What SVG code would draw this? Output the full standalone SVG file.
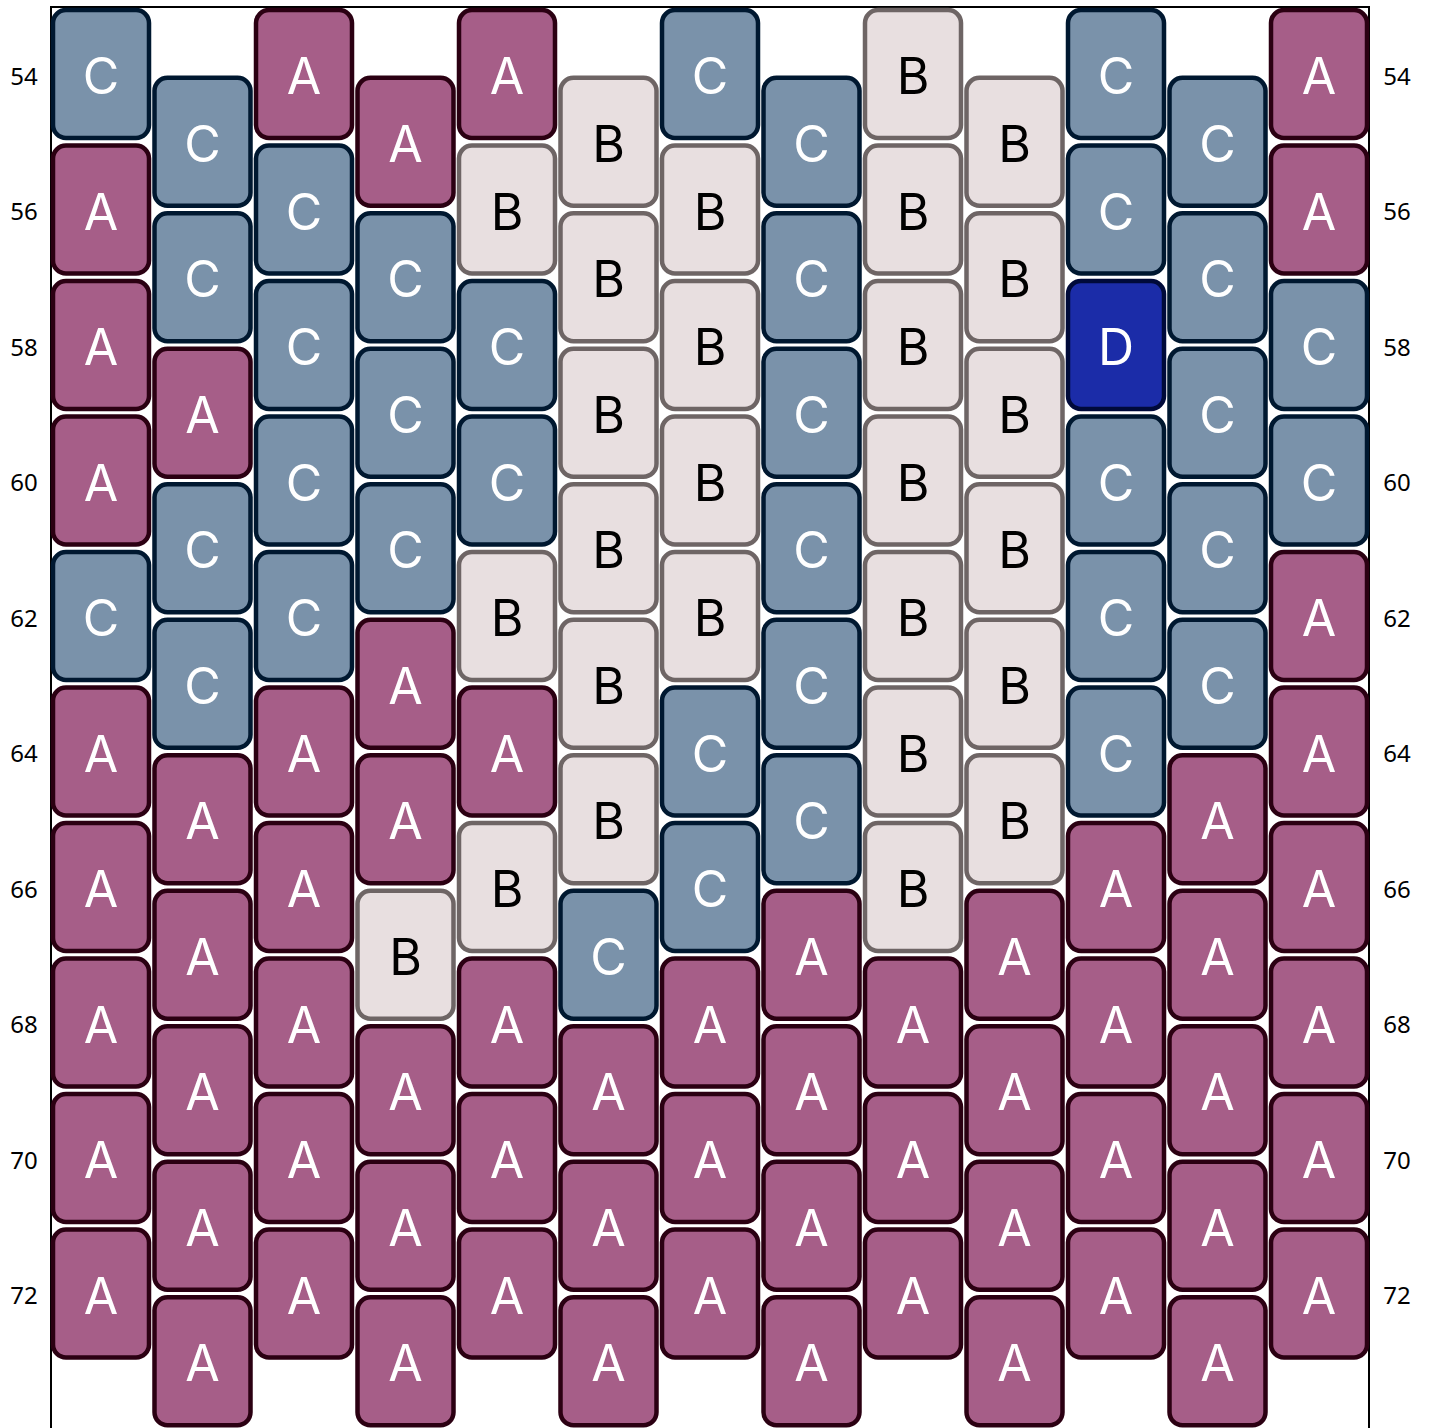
<svg xmlns="http://www.w3.org/2000/svg" width="1431" height="1428" viewBox="0 0 1431 1428">
<style>
.bead rect{stroke-width:4.5}
.bead text{font-family:Inter,"Noto Sans","Liberation Sans",sans-serif;font-size:50px;text-anchor:middle;dominant-baseline:central}
.A rect{fill:#a65e88;stroke:#2b0012}
.A text{fill:#ffffff}
.C rect{fill:#7a92aa;stroke:#001830}
.C text{fill:#ffffff}
.B rect{fill:#e8dfe0;stroke:#6e6565}
.B text{fill:#000000}
.D rect{fill:#1b2ca8;stroke:#000a3a}
.D text{fill:#ffffff}
.lbl{font-family:"Noto Sans","Open Sans","Liberation Sans",sans-serif;font-size:24px;text-anchor:middle;dominant-baseline:central;fill:#000}
</style>
<g id="frame" fill="none" stroke="#000" stroke-width="2">
<path d="M51,1428 V7 H1369 V1428"/>
</g>
<g id="connectors"></g>
<g id="beads">
<g id="c0r0" class="bead C" transform="translate(53,10)"><rect width="96" height="128" rx="13"/><text x="48" y="66">C</text></g>
<g id="c0r1" class="bead A" transform="translate(53,145.5)"><rect width="96" height="128" rx="13"/><text x="48" y="66">A</text></g>
<g id="c0r2" class="bead A" transform="translate(53,281)"><rect width="96" height="128" rx="13"/><text x="48" y="66">A</text></g>
<g id="c0r3" class="bead A" transform="translate(53,416.5)"><rect width="96" height="128" rx="13"/><text x="48" y="66">A</text></g>
<g id="c0r4" class="bead C" transform="translate(53,552)"><rect width="96" height="128" rx="13"/><text x="48" y="66">C</text></g>
<g id="c0r5" class="bead A" transform="translate(53,687.5)"><rect width="96" height="128" rx="13"/><text x="48" y="66">A</text></g>
<g id="c0r6" class="bead A" transform="translate(53,823)"><rect width="96" height="128" rx="13"/><text x="48" y="66">A</text></g>
<g id="c0r7" class="bead A" transform="translate(53,958.5)"><rect width="96" height="128" rx="13"/><text x="48" y="66">A</text></g>
<g id="c0r8" class="bead A" transform="translate(53,1094)"><rect width="96" height="128" rx="13"/><text x="48" y="66">A</text></g>
<g id="c0r9" class="bead A" transform="translate(53,1229.5)"><rect width="96" height="128" rx="13"/><text x="48" y="66">A</text></g>

<g id="c1r0" class="bead C" transform="translate(154.5,77.75)"><rect width="96" height="128" rx="13"/><text x="48" y="66">C</text></g>
<g id="c1r1" class="bead C" transform="translate(154.5,213.25)"><rect width="96" height="128" rx="13"/><text x="48" y="66">C</text></g>
<g id="c1r2" class="bead A" transform="translate(154.5,348.75)"><rect width="96" height="128" rx="13"/><text x="48" y="66">A</text></g>
<g id="c1r3" class="bead C" transform="translate(154.5,484.25)"><rect width="96" height="128" rx="13"/><text x="48" y="66">C</text></g>
<g id="c1r4" class="bead C" transform="translate(154.5,619.75)"><rect width="96" height="128" rx="13"/><text x="48" y="66">C</text></g>
<g id="c1r5" class="bead A" transform="translate(154.5,755.25)"><rect width="96" height="128" rx="13"/><text x="48" y="66">A</text></g>
<g id="c1r6" class="bead A" transform="translate(154.5,890.75)"><rect width="96" height="128" rx="13"/><text x="48" y="66">A</text></g>
<g id="c1r7" class="bead A" transform="translate(154.5,1026.25)"><rect width="96" height="128" rx="13"/><text x="48" y="66">A</text></g>
<g id="c1r8" class="bead A" transform="translate(154.5,1161.75)"><rect width="96" height="128" rx="13"/><text x="48" y="66">A</text></g>
<g id="c1r9" class="bead A" transform="translate(154.5,1297.25)"><rect width="96" height="128" rx="13"/><text x="48" y="66">A</text></g>

<g id="c2r0" class="bead A" transform="translate(256,10)"><rect width="96" height="128" rx="13"/><text x="48" y="66">A</text></g>
<g id="c2r1" class="bead C" transform="translate(256,145.5)"><rect width="96" height="128" rx="13"/><text x="48" y="66">C</text></g>
<g id="c2r2" class="bead C" transform="translate(256,281)"><rect width="96" height="128" rx="13"/><text x="48" y="66">C</text></g>
<g id="c2r3" class="bead C" transform="translate(256,416.5)"><rect width="96" height="128" rx="13"/><text x="48" y="66">C</text></g>
<g id="c2r4" class="bead C" transform="translate(256,552)"><rect width="96" height="128" rx="13"/><text x="48" y="66">C</text></g>
<g id="c2r5" class="bead A" transform="translate(256,687.5)"><rect width="96" height="128" rx="13"/><text x="48" y="66">A</text></g>
<g id="c2r6" class="bead A" transform="translate(256,823)"><rect width="96" height="128" rx="13"/><text x="48" y="66">A</text></g>
<g id="c2r7" class="bead A" transform="translate(256,958.5)"><rect width="96" height="128" rx="13"/><text x="48" y="66">A</text></g>
<g id="c2r8" class="bead A" transform="translate(256,1094)"><rect width="96" height="128" rx="13"/><text x="48" y="66">A</text></g>
<g id="c2r9" class="bead A" transform="translate(256,1229.5)"><rect width="96" height="128" rx="13"/><text x="48" y="66">A</text></g>

<g id="c3r0" class="bead A" transform="translate(357.5,77.75)"><rect width="96" height="128" rx="13"/><text x="48" y="66">A</text></g>
<g id="c3r1" class="bead C" transform="translate(357.5,213.25)"><rect width="96" height="128" rx="13"/><text x="48" y="66">C</text></g>
<g id="c3r2" class="bead C" transform="translate(357.5,348.75)"><rect width="96" height="128" rx="13"/><text x="48" y="66">C</text></g>
<g id="c3r3" class="bead C" transform="translate(357.5,484.25)"><rect width="96" height="128" rx="13"/><text x="48" y="66">C</text></g>
<g id="c3r4" class="bead A" transform="translate(357.5,619.75)"><rect width="96" height="128" rx="13"/><text x="48" y="66">A</text></g>
<g id="c3r5" class="bead A" transform="translate(357.5,755.25)"><rect width="96" height="128" rx="13"/><text x="48" y="66">A</text></g>
<g id="c3r6" class="bead B" transform="translate(357.5,890.75)"><rect width="96" height="128" rx="13"/><text x="48" y="66">B</text></g>
<g id="c3r7" class="bead A" transform="translate(357.5,1026.25)"><rect width="96" height="128" rx="13"/><text x="48" y="66">A</text></g>
<g id="c3r8" class="bead A" transform="translate(357.5,1161.75)"><rect width="96" height="128" rx="13"/><text x="48" y="66">A</text></g>
<g id="c3r9" class="bead A" transform="translate(357.5,1297.25)"><rect width="96" height="128" rx="13"/><text x="48" y="66">A</text></g>

<g id="c4r0" class="bead A" transform="translate(459,10)"><rect width="96" height="128" rx="13"/><text x="48" y="66">A</text></g>
<g id="c4r1" class="bead B" transform="translate(459,145.5)"><rect width="96" height="128" rx="13"/><text x="48" y="66">B</text></g>
<g id="c4r2" class="bead C" transform="translate(459,281)"><rect width="96" height="128" rx="13"/><text x="48" y="66">C</text></g>
<g id="c4r3" class="bead C" transform="translate(459,416.5)"><rect width="96" height="128" rx="13"/><text x="48" y="66">C</text></g>
<g id="c4r4" class="bead B" transform="translate(459,552)"><rect width="96" height="128" rx="13"/><text x="48" y="66">B</text></g>
<g id="c4r5" class="bead A" transform="translate(459,687.5)"><rect width="96" height="128" rx="13"/><text x="48" y="66">A</text></g>
<g id="c4r6" class="bead B" transform="translate(459,823)"><rect width="96" height="128" rx="13"/><text x="48" y="66">B</text></g>
<g id="c4r7" class="bead A" transform="translate(459,958.5)"><rect width="96" height="128" rx="13"/><text x="48" y="66">A</text></g>
<g id="c4r8" class="bead A" transform="translate(459,1094)"><rect width="96" height="128" rx="13"/><text x="48" y="66">A</text></g>
<g id="c4r9" class="bead A" transform="translate(459,1229.5)"><rect width="96" height="128" rx="13"/><text x="48" y="66">A</text></g>

<g id="c5r0" class="bead B" transform="translate(560.5,77.75)"><rect width="96" height="128" rx="13"/><text x="48" y="66">B</text></g>
<g id="c5r1" class="bead B" transform="translate(560.5,213.25)"><rect width="96" height="128" rx="13"/><text x="48" y="66">B</text></g>
<g id="c5r2" class="bead B" transform="translate(560.5,348.75)"><rect width="96" height="128" rx="13"/><text x="48" y="66">B</text></g>
<g id="c5r3" class="bead B" transform="translate(560.5,484.25)"><rect width="96" height="128" rx="13"/><text x="48" y="66">B</text></g>
<g id="c5r4" class="bead B" transform="translate(560.5,619.75)"><rect width="96" height="128" rx="13"/><text x="48" y="66">B</text></g>
<g id="c5r5" class="bead B" transform="translate(560.5,755.25)"><rect width="96" height="128" rx="13"/><text x="48" y="66">B</text></g>
<g id="c5r6" class="bead C" transform="translate(560.5,890.75)"><rect width="96" height="128" rx="13"/><text x="48" y="66">C</text></g>
<g id="c5r7" class="bead A" transform="translate(560.5,1026.25)"><rect width="96" height="128" rx="13"/><text x="48" y="66">A</text></g>
<g id="c5r8" class="bead A" transform="translate(560.5,1161.75)"><rect width="96" height="128" rx="13"/><text x="48" y="66">A</text></g>
<g id="c5r9" class="bead A" transform="translate(560.5,1297.25)"><rect width="96" height="128" rx="13"/><text x="48" y="66">A</text></g>

<g id="c6r0" class="bead C" transform="translate(662,10)"><rect width="96" height="128" rx="13"/><text x="48" y="66">C</text></g>
<g id="c6r1" class="bead B" transform="translate(662,145.5)"><rect width="96" height="128" rx="13"/><text x="48" y="66">B</text></g>
<g id="c6r2" class="bead B" transform="translate(662,281)"><rect width="96" height="128" rx="13"/><text x="48" y="66">B</text></g>
<g id="c6r3" class="bead B" transform="translate(662,416.5)"><rect width="96" height="128" rx="13"/><text x="48" y="66">B</text></g>
<g id="c6r4" class="bead B" transform="translate(662,552)"><rect width="96" height="128" rx="13"/><text x="48" y="66">B</text></g>
<g id="c6r5" class="bead C" transform="translate(662,687.5)"><rect width="96" height="128" rx="13"/><text x="48" y="66">C</text></g>
<g id="c6r6" class="bead C" transform="translate(662,823)"><rect width="96" height="128" rx="13"/><text x="48" y="66">C</text></g>
<g id="c6r7" class="bead A" transform="translate(662,958.5)"><rect width="96" height="128" rx="13"/><text x="48" y="66">A</text></g>
<g id="c6r8" class="bead A" transform="translate(662,1094)"><rect width="96" height="128" rx="13"/><text x="48" y="66">A</text></g>
<g id="c6r9" class="bead A" transform="translate(662,1229.5)"><rect width="96" height="128" rx="13"/><text x="48" y="66">A</text></g>

<g id="c7r0" class="bead C" transform="translate(763.5,77.75)"><rect width="96" height="128" rx="13"/><text x="48" y="66">C</text></g>
<g id="c7r1" class="bead C" transform="translate(763.5,213.25)"><rect width="96" height="128" rx="13"/><text x="48" y="66">C</text></g>
<g id="c7r2" class="bead C" transform="translate(763.5,348.75)"><rect width="96" height="128" rx="13"/><text x="48" y="66">C</text></g>
<g id="c7r3" class="bead C" transform="translate(763.5,484.25)"><rect width="96" height="128" rx="13"/><text x="48" y="66">C</text></g>
<g id="c7r4" class="bead C" transform="translate(763.5,619.75)"><rect width="96" height="128" rx="13"/><text x="48" y="66">C</text></g>
<g id="c7r5" class="bead C" transform="translate(763.5,755.25)"><rect width="96" height="128" rx="13"/><text x="48" y="66">C</text></g>
<g id="c7r6" class="bead A" transform="translate(763.5,890.75)"><rect width="96" height="128" rx="13"/><text x="48" y="66">A</text></g>
<g id="c7r7" class="bead A" transform="translate(763.5,1026.25)"><rect width="96" height="128" rx="13"/><text x="48" y="66">A</text></g>
<g id="c7r8" class="bead A" transform="translate(763.5,1161.75)"><rect width="96" height="128" rx="13"/><text x="48" y="66">A</text></g>
<g id="c7r9" class="bead A" transform="translate(763.5,1297.25)"><rect width="96" height="128" rx="13"/><text x="48" y="66">A</text></g>

<g id="c8r0" class="bead B" transform="translate(865,10)"><rect width="96" height="128" rx="13"/><text x="48" y="66">B</text></g>
<g id="c8r1" class="bead B" transform="translate(865,145.5)"><rect width="96" height="128" rx="13"/><text x="48" y="66">B</text></g>
<g id="c8r2" class="bead B" transform="translate(865,281)"><rect width="96" height="128" rx="13"/><text x="48" y="66">B</text></g>
<g id="c8r3" class="bead B" transform="translate(865,416.5)"><rect width="96" height="128" rx="13"/><text x="48" y="66">B</text></g>
<g id="c8r4" class="bead B" transform="translate(865,552)"><rect width="96" height="128" rx="13"/><text x="48" y="66">B</text></g>
<g id="c8r5" class="bead B" transform="translate(865,687.5)"><rect width="96" height="128" rx="13"/><text x="48" y="66">B</text></g>
<g id="c8r6" class="bead B" transform="translate(865,823)"><rect width="96" height="128" rx="13"/><text x="48" y="66">B</text></g>
<g id="c8r7" class="bead A" transform="translate(865,958.5)"><rect width="96" height="128" rx="13"/><text x="48" y="66">A</text></g>
<g id="c8r8" class="bead A" transform="translate(865,1094)"><rect width="96" height="128" rx="13"/><text x="48" y="66">A</text></g>
<g id="c8r9" class="bead A" transform="translate(865,1229.5)"><rect width="96" height="128" rx="13"/><text x="48" y="66">A</text></g>

<g id="c9r0" class="bead B" transform="translate(966.5,77.75)"><rect width="96" height="128" rx="13"/><text x="48" y="66">B</text></g>
<g id="c9r1" class="bead B" transform="translate(966.5,213.25)"><rect width="96" height="128" rx="13"/><text x="48" y="66">B</text></g>
<g id="c9r2" class="bead B" transform="translate(966.5,348.75)"><rect width="96" height="128" rx="13"/><text x="48" y="66">B</text></g>
<g id="c9r3" class="bead B" transform="translate(966.5,484.25)"><rect width="96" height="128" rx="13"/><text x="48" y="66">B</text></g>
<g id="c9r4" class="bead B" transform="translate(966.5,619.75)"><rect width="96" height="128" rx="13"/><text x="48" y="66">B</text></g>
<g id="c9r5" class="bead B" transform="translate(966.5,755.25)"><rect width="96" height="128" rx="13"/><text x="48" y="66">B</text></g>
<g id="c9r6" class="bead A" transform="translate(966.5,890.75)"><rect width="96" height="128" rx="13"/><text x="48" y="66">A</text></g>
<g id="c9r7" class="bead A" transform="translate(966.5,1026.25)"><rect width="96" height="128" rx="13"/><text x="48" y="66">A</text></g>
<g id="c9r8" class="bead A" transform="translate(966.5,1161.75)"><rect width="96" height="128" rx="13"/><text x="48" y="66">A</text></g>
<g id="c9r9" class="bead A" transform="translate(966.5,1297.25)"><rect width="96" height="128" rx="13"/><text x="48" y="66">A</text></g>

<g id="c10r0" class="bead C" transform="translate(1068,10)"><rect width="96" height="128" rx="13"/><text x="48" y="66">C</text></g>
<g id="c10r1" class="bead C" transform="translate(1068,145.5)"><rect width="96" height="128" rx="13"/><text x="48" y="66">C</text></g>
<g id="c10r2" class="bead D" transform="translate(1068,281)"><rect width="96" height="128" rx="13"/><text x="48" y="66">D</text></g>
<g id="c10r3" class="bead C" transform="translate(1068,416.5)"><rect width="96" height="128" rx="13"/><text x="48" y="66">C</text></g>
<g id="c10r4" class="bead C" transform="translate(1068,552)"><rect width="96" height="128" rx="13"/><text x="48" y="66">C</text></g>
<g id="c10r5" class="bead C" transform="translate(1068,687.5)"><rect width="96" height="128" rx="13"/><text x="48" y="66">C</text></g>
<g id="c10r6" class="bead A" transform="translate(1068,823)"><rect width="96" height="128" rx="13"/><text x="48" y="66">A</text></g>
<g id="c10r7" class="bead A" transform="translate(1068,958.5)"><rect width="96" height="128" rx="13"/><text x="48" y="66">A</text></g>
<g id="c10r8" class="bead A" transform="translate(1068,1094)"><rect width="96" height="128" rx="13"/><text x="48" y="66">A</text></g>
<g id="c10r9" class="bead A" transform="translate(1068,1229.5)"><rect width="96" height="128" rx="13"/><text x="48" y="66">A</text></g>

<g id="c11r0" class="bead C" transform="translate(1169.5,77.75)"><rect width="96" height="128" rx="13"/><text x="48" y="66">C</text></g>
<g id="c11r1" class="bead C" transform="translate(1169.5,213.25)"><rect width="96" height="128" rx="13"/><text x="48" y="66">C</text></g>
<g id="c11r2" class="bead C" transform="translate(1169.5,348.75)"><rect width="96" height="128" rx="13"/><text x="48" y="66">C</text></g>
<g id="c11r3" class="bead C" transform="translate(1169.5,484.25)"><rect width="96" height="128" rx="13"/><text x="48" y="66">C</text></g>
<g id="c11r4" class="bead C" transform="translate(1169.5,619.75)"><rect width="96" height="128" rx="13"/><text x="48" y="66">C</text></g>
<g id="c11r5" class="bead A" transform="translate(1169.5,755.25)"><rect width="96" height="128" rx="13"/><text x="48" y="66">A</text></g>
<g id="c11r6" class="bead A" transform="translate(1169.5,890.75)"><rect width="96" height="128" rx="13"/><text x="48" y="66">A</text></g>
<g id="c11r7" class="bead A" transform="translate(1169.5,1026.25)"><rect width="96" height="128" rx="13"/><text x="48" y="66">A</text></g>
<g id="c11r8" class="bead A" transform="translate(1169.5,1161.75)"><rect width="96" height="128" rx="13"/><text x="48" y="66">A</text></g>
<g id="c11r9" class="bead A" transform="translate(1169.5,1297.25)"><rect width="96" height="128" rx="13"/><text x="48" y="66">A</text></g>

<g id="c12r0" class="bead A" transform="translate(1271,10)"><rect width="96" height="128" rx="13"/><text x="48" y="66">A</text></g>
<g id="c12r1" class="bead A" transform="translate(1271,145.5)"><rect width="96" height="128" rx="13"/><text x="48" y="66">A</text></g>
<g id="c12r2" class="bead C" transform="translate(1271,281)"><rect width="96" height="128" rx="13"/><text x="48" y="66">C</text></g>
<g id="c12r3" class="bead C" transform="translate(1271,416.5)"><rect width="96" height="128" rx="13"/><text x="48" y="66">C</text></g>
<g id="c12r4" class="bead A" transform="translate(1271,552)"><rect width="96" height="128" rx="13"/><text x="48" y="66">A</text></g>
<g id="c12r5" class="bead A" transform="translate(1271,687.5)"><rect width="96" height="128" rx="13"/><text x="48" y="66">A</text></g>
<g id="c12r6" class="bead A" transform="translate(1271,823)"><rect width="96" height="128" rx="13"/><text x="48" y="66">A</text></g>
<g id="c12r7" class="bead A" transform="translate(1271,958.5)"><rect width="96" height="128" rx="13"/><text x="48" y="66">A</text></g>
<g id="c12r8" class="bead A" transform="translate(1271,1094)"><rect width="96" height="128" rx="13"/><text x="48" y="66">A</text></g>
<g id="c12r9" class="bead A" transform="translate(1271,1229.5)"><rect width="96" height="128" rx="13"/><text x="48" y="66">A</text></g>
</g>
<g id="labels-left">
<text class="lbl" x="24" y="75">54</text>
<text class="lbl" x="24" y="210.5">56</text>
<text class="lbl" x="24" y="346">58</text>
<text class="lbl" x="24" y="481.5">60</text>
<text class="lbl" x="24" y="617">62</text>
<text class="lbl" x="24" y="752.5">64</text>
<text class="lbl" x="24" y="888">66</text>
<text class="lbl" x="24" y="1023.5">68</text>
<text class="lbl" x="24" y="1159">70</text>
<text class="lbl" x="24" y="1294.5">72</text>
</g>
<g id="labels-right">
<text class="lbl" x="1397" y="75">54</text>
<text class="lbl" x="1397" y="210.5">56</text>
<text class="lbl" x="1397" y="346">58</text>
<text class="lbl" x="1397" y="481.5">60</text>
<text class="lbl" x="1397" y="617">62</text>
<text class="lbl" x="1397" y="752.5">64</text>
<text class="lbl" x="1397" y="888">66</text>
<text class="lbl" x="1397" y="1023.5">68</text>
<text class="lbl" x="1397" y="1159">70</text>
<text class="lbl" x="1397" y="1294.5">72</text>
</g>
</svg>
